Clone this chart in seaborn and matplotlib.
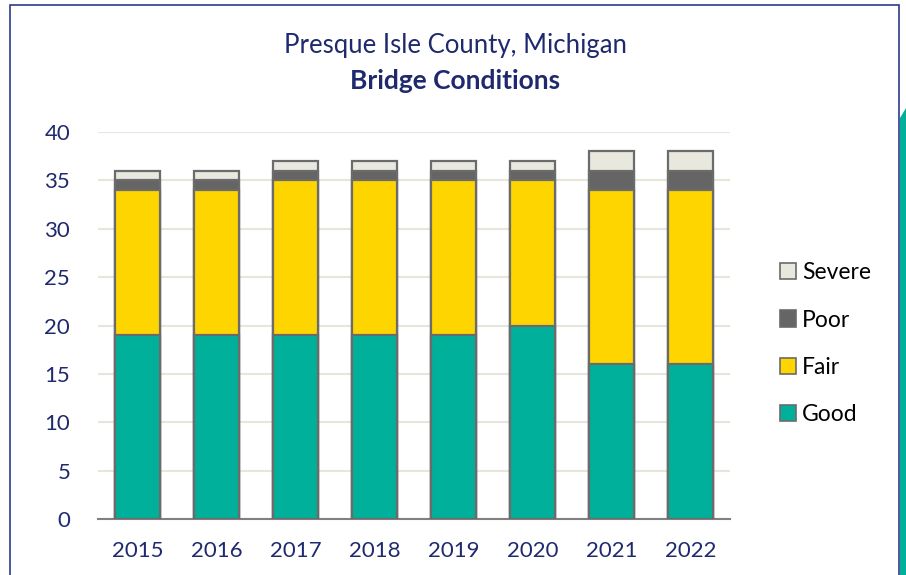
import matplotlib
matplotlib.use("Agg")
import matplotlib.pyplot as plt
from matplotlib.patches import Rectangle, Polygon
import seaborn as sns
import pandas as pd
import numpy as np

years = ["2015", "2016", "2017", "2018", "2019", "2020", "2021", "2022"]
good = [19, 19, 19, 19, 19, 20, 16, 16]
fair = [15, 15, 16, 16, 16, 15, 18, 18]
poor = [1, 1, 1, 1, 1, 1, 2, 2]
severe = [1, 1, 1, 1, 1, 1, 2, 2]

categories = ["Good", "Fair", "Poor", "Severe"]
colors = {"Good": "#00b09b", "Fair": "#ffd500", "Poor": "#656565", "Severe": "#e8e8df"}

df = pd.DataFrame({"Year": years, "Good": good, "Fair": fair, "Poor": poor, "Severe": severe})

sns.set_theme(style="white")
plt.rcParams["font.family"] = ["Lato", "DejaVu Sans"]

navy = "#1f2a6e"
fig = plt.figure(figsize=(9.06, 5.75), dpi=100)
ax = fig.add_axes([98 / 906, 1 - 519 / 575, 632 / 906, 387 / 575])

# stacked bars, each layer drawn on top of the cumulative total
bottom = np.zeros(len(years))
handles = []
for cat in categories:
    top = bottom + df[cat].to_numpy()
    plot_df = pd.DataFrame({"Year": years, "Total": top})
    sns.barplot(data=plot_df, x="Year", y="Total", color=colors[cat], ax=ax, saturation=1,
                width=0.57, edgecolor="#6b6b6b", linewidth=1.6, zorder=10 - len(handles))
    handles.append(Rectangle((0, 0), 1, 1, facecolor=colors[cat], edgecolor="#6b6b6b", linewidth=1.2))
    bottom = top

ax.set_ylim(0, 40)
ax.set_yticks(range(0, 41, 5))
ax.set_xlim(-0.5, len(years) - 0.5)
ax.set_xlabel("")
ax.set_ylabel("")
ax.yaxis.grid(True, color="#e6e6da", linewidth=1.5)
ax.set_axisbelow(True)
for s in ["top", "right", "left"]:
    ax.spines[s].set_visible(False)
ax.spines["bottom"].set_color("#808080")
ax.spines["bottom"].set_linewidth(1.5)
ax.tick_params(axis="both", length=0, labelsize=16, colors=navy)
ax.tick_params(axis="x", pad=16)
ax.tick_params(axis="y", pad=20)

leg = fig.legend(handles[::-1], categories[::-1], loc="upper left",
                 bbox_to_anchor=(771 / 906, 1 - 253 / 575), frameon=False,
                 fontsize=16.5, handlelength=0.7, handleheight=0.7,
                 labelspacing=1.15, handletextpad=0.25, borderaxespad=0)
for t in leg.get_texts():
    t.set_color("black")

fig.text(455 / 906, 1 - 45 / 575, "Presque Isle County, Michigan", ha="center", va="center",
         fontsize=18.5, color=navy)
fig.text(455 / 906, 1 - 81 / 575, "Bridge Conditions", ha="center", va="center",
         fontsize=19, fontweight="bold", color=navy)

# framing panel and side accent
fig.patches.append(Rectangle((10 / 906, -0.05), 889 / 906, 1.05 - 5 / 575, transform=fig.transFigure,
                             fill=False, edgecolor="#2e3a8c", linewidth=1.2))
fig.patches.append(Polygon([(900 / 906, 1 - 118 / 575), (906 / 906, 1 - 108 / 575),
                            (906 / 906, 0), (900 / 906, 0)], closed=True,
                           transform=fig.transFigure, facecolor="#00b09b", edgecolor="none"))

fig.savefig("out.png", dpi=100)
